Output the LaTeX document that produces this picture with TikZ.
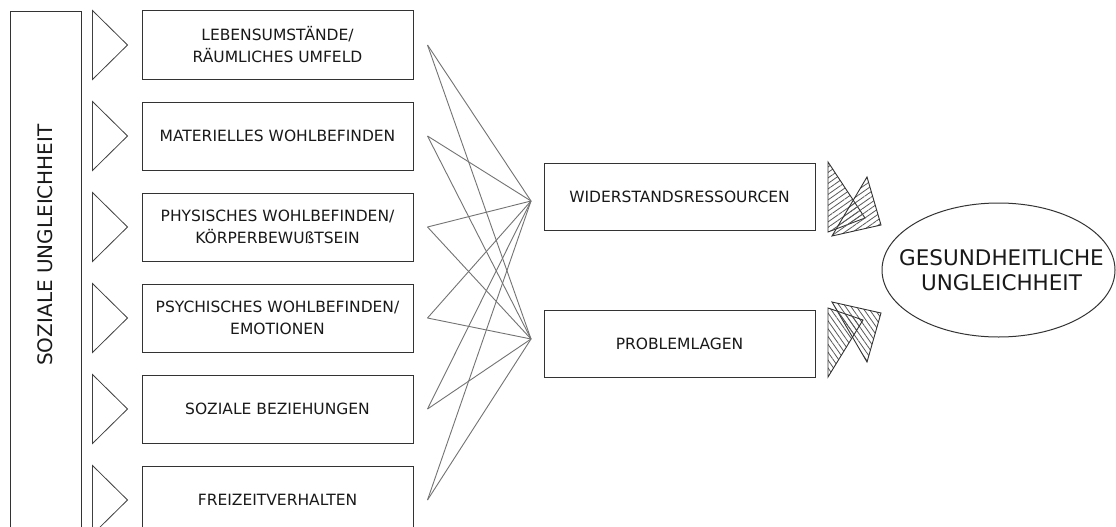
\documentclass[tikz,border=0pt]{standalone}
\usepackage{fontspec}
\setmainfont{DejaVu Sans}
\usetikzlibrary{shapes.geometric, positioning, calc, patterns.meta}

\begin{document}
\begin{tikzpicture}[
        x=1pt, y=-1pt,
        font=\fontsize{15.5}{22}\selectfont, node distance=22pt, text=black!90,
        box/.style={draw=black!80, line width=1pt, minimum width=271pt, minimum height=68pt, align=center, inner sep=2pt},
        pfeil/.style={draw=black!75, line width=0.8pt, fill=white},
        link/.style={black!55, line width=0.9pt},
        hatch/.style={draw=black!80, line width=0.9pt, pattern={Lines[angle=#1, distance=4.5pt, line width=0.8pt]}, pattern color=black!65}
    ]
        \useasboundingbox[fill=white] (0,0) rectangle (1116,527);
        \clip (0,0) rectangle (1116,527);

        \node[draw=black!80, line width=1pt, minimum width=71pt, minimum height=540pt, anchor=north west] (rahmen) at (10,11) {};
        \node[rotate=90, font=\fontsize{20}{24}\selectfont] (su) at (45.5,245) {SOZIALE UNGLEICHHEIT};

        \node[box] (b1) at (277.5,45) {LEBENSUMSTÄNDE/\\RÄUMLICHES UMFELD};
        \node[box, below=of b1] (b2) {MATERIELLES WOHLBEFINDEN};
        \node[box, below=of b2] (b3) {PHYSISCHES WOHLBEFINDEN/\\KÖRPERBEWUßTSEIN};
        \node[box, below=of b3] (b4) {PSYCHISCHES WOHLBEFINDEN/\\EMOTIONEN};
        \node[box, below=of b4] (b5) {SOZIALE BEZIEHUNGEN};
        \node[box, below=of b5] (b6) {FREIZEITVERHALTEN};

        \node[box, minimum height=67pt] (wr) at (679.5,196.5) {WIDERSTANDSRESSOURCEN};
        \node[box, minimum height=67pt, below=79pt of wr] (pl) {PROBLEMLAGEN};

        \coordinate (kw) at (531,201);
        \coordinate (kp) at (531,339);

        \foreach \i in {1,...,6} {
            \draw[pfeil] ($(b\i.north west)+(-49,0)$) -- ($(b\i.west)+(-14,0)$) -- ($(b\i.south west)+(-49,0)$) -- cycle;
            \coordinate (s\i) at ($(b\i.east)+(14,0)$);
            \draw[link] (s\i) -- (kw);
            \draw[link] (s\i) -- (kp);
        }

        % schraffierte Pfeile
        \draw[hatch=35] (828,162) -- (865,218) -- (828,232) -- cycle;
        \draw[hatch=35] (867,177) -- (881,225) -- (832,236) -- cycle;
        \draw[hatch=-55] (832,302) -- (881,313) -- (867,362) -- cycle;
        \draw[hatch=-55] (828,308) -- (863,320) -- (828,377) -- cycle;

        \node[draw=black!80, line width=1pt, ellipse, minimum width=233pt, minimum height=134pt, inner sep=0pt] (gu) at (998.5,270) {};
        \node[align=center, font=\fontsize{21.5}{25}\selectfont] (gut) at ($(gu)+(3,0)$) {GESUNDHEITLICHE\\UNGLEICHHEIT};
    \end{tikzpicture}
\end{document}
